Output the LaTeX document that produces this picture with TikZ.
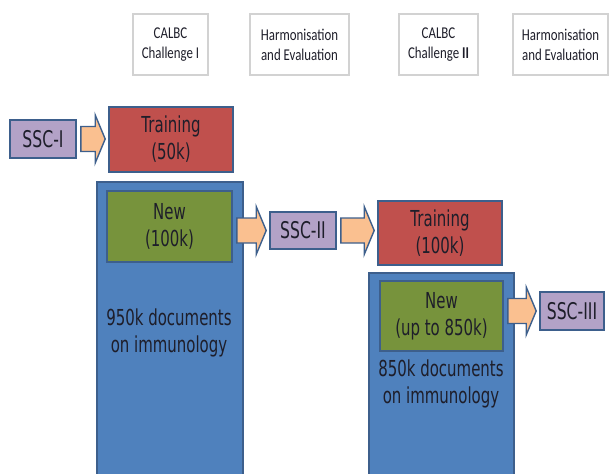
\documentclass[tikz,border=0pt]{standalone}
\usepackage{fontspec}
\setmainfont{DejaVu Sans}[FakeStretch=0.68]
\newfontfamily\topfont{Carlito}[FakeStretch=0.78]
\usetikzlibrary{calc}
\definecolor{edgeblue}{HTML}{3D5F8C}
\definecolor{sscfill}{HTML}{B3A2C7}
\definecolor{trainfill}{HTML}{C0504D}
\definecolor{newfill}{HTML}{77933C}
\definecolor{corpfill}{HTML}{4F81BD}
\definecolor{arrowfill}{HTML}{FAC090}
\definecolor{topedge}{HTML}{D2D2D2}
\definecolor{txt}{HTML}{1E1E2A}
\tikzset{
  box/.style={draw=edgeblue, line width=1.6pt, inner sep=0pt, align=center, text=txt,
              font=\fontsize{22}{27}\selectfont},
  sscbox/.style={box, fill=sscfill, font=\fontsize{23}{27}\selectfont},
  trainbox/.style={box, fill=trainfill},
  newbox/.style={box, fill=newfill},
  corpbox/.style={box, fill=corpfill},
  corptext/.style={align=center, text=txt, inner sep=0pt, font=\fontsize{22}{27}\selectfont},
  topbox/.style={draw=topedge, line width=2.2pt, fill=white, inner sep=0pt, align=center,
                 text=txt, font=\topfont\fontsize{16.5}{20}\selectfont},
  barrow/.style={draw=edgeblue, line width=1.4pt, fill=arrowfill, line join=miter},
}
\newcommand\blockarrow[3]{%
  \path[barrow] let \p1=($(#1.east)+(4,0)$), \p2=($(#2.west)+(-3,0)$), \p3=(#3) in
    (\x1,\y3+12.5pt) -- (\x2-10pt,\y3+12.5pt) -- (\x2-10pt,\y3+24pt) -- (\x2,\y3)
    -- (\x2-10pt,\y3-24pt) -- (\x2-10pt,\y3-12.5pt) -- (\x1,\y3-12.5pt) -- cycle;}
\begin{document}
\begin{tikzpicture}[x=1pt, y=-1pt]
\useasboundingbox (0,0) rectangle (609,473);
\begin{scope}
\clip (0,0) rectangle (609,473);
% top stage boxes
\node[topbox, minimum width=75pt, minimum height=61pt] (c1) at (170.5,44.5) {CALBC\\Challenge I};
\node[topbox, minimum width=99pt, minimum height=61pt] (h1) at (299.5,44.5) {Harmonisation\\and Evaluation};
\node[topbox, minimum width=79pt, minimum height=61pt] (c2) at (438.5,44.5) {CALBC\\Challenge \textbf{II}};
\node[topbox, minimum width=95pt, minimum height=61pt] (h2) at (560.5,44.5) {Harmonisation\\and Evaluation};
% corpus boxes
\node[corpbox, minimum width=146pt, minimum height=300pt] (corp1) at (170,332) {};
\node[corpbox, minimum width=145pt, minimum height=210pt] (corp2) at (441.5,378) {};
\node[corptext] (t1) at (169,333) {950k documents\\on immunology};
\node[corptext] (t2) at (441,384) {850k documents\\on immunology};
% SSC boxes
\node[sscbox, minimum width=66pt, minimum height=38pt] (ssc1) at (43,139) {SSC-I};
\node[sscbox, minimum width=66pt, minimum height=37pt] (ssc2) at (303,230.5) {SSC-II};
\node[sscbox, minimum width=64pt, minimum height=38pt] (ssc3) at (572,311) {SSC-III};
% training
\node[trainbox, minimum width=124pt, minimum height=65pt] (tr1) at (171,139.5) {Training\\(50k)};
\node[trainbox, minimum width=124pt, minimum height=64pt] (tr2) at (440,233) {Training\\(100k)};
% new
\node[newbox, minimum width=125pt, minimum height=71pt] (new1) at (169.5,226.5) {New\\(100k)};
\node[newbox, minimum width=123pt, minimum height=70pt] (new2) at (441.5,316) {New\\(up to 850k)};
% block arrows
\blockarrow{ssc1}{tr1}{ssc1}
\blockarrow{new1}{ssc2}{ssc2}
\blockarrow{ssc2}{tr2}{ssc2}
\blockarrow{new2}{ssc3}{ssc3}
\end{scope}
\end{tikzpicture}
\end{document}
